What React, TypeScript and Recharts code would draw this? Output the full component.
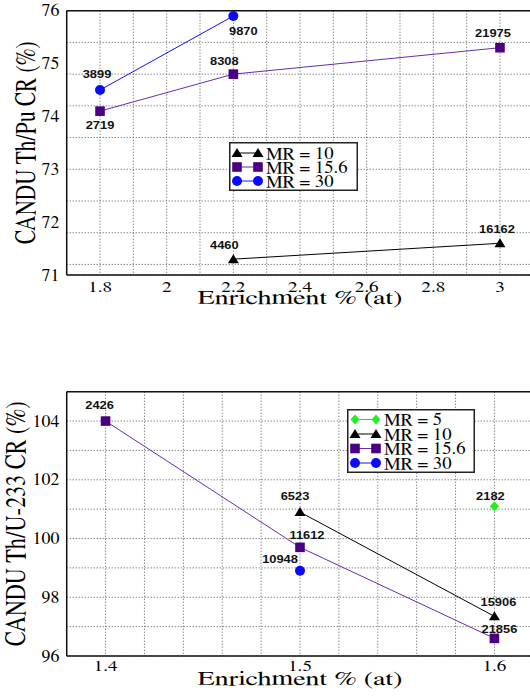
import React from "react";
import {
  LineChart,
  Line,
  XAxis,
  YAxis,
  CartesianGrid,
  ReferenceLine,
  LabelList,
  Legend,
} from "recharts";

// upper panel: CANDU Th/Pu conversion ratio
const puMr10Enrichment = [2.2, 3];
const puMr10Cr = [71.3, 71.6];
const puMr10Burnup = [4460, 16162];

const puMr156Enrichment = [1.8, 2.2, 3];
const puMr156Cr = [74.1, 74.8, 75.3];
const puMr156Burnup = [2719, 8308, 21975];

const puMr30Enrichment = [1.8, 2.2];
const puMr30Cr = [74.5, 75.9];
const puMr30Burnup = [3899, 9870];

const puXTicks = [1.8, 2, 2.2, 2.4, 2.6, 2.8, 3];
const puYTicks = [71, 72, 73, 74, 75, 76];
const puXGrid = [1.7, 1.8, 1.9, 2, 2.1, 2.2, 2.3, 2.4, 2.5, 2.6, 2.7, 2.8, 2.9, 3, 3.1];
const puYGrid = [
  71, 71.2, 71.4, 71.6, 71.8, 72, 72.2, 72.4, 72.6, 72.8, 73, 73.2, 73.4, 73.6, 73.8,
  74, 74.2, 74.4, 74.6, 74.8, 75, 75.2, 75.4, 75.6, 75.8, 76,
];

// lower panel: CANDU Th/U-233 conversion ratio
const uMr5Enrichment = [1.6];
const uMr5Cr = [101.1];
const uMr5Burnup = [2182];

const uMr10Enrichment = [1.5, 1.6];
const uMr10Cr = [100.9, 97.35];
const uMr10Burnup = [6523, 15906];

const uMr156Enrichment = [1.4, 1.5, 1.6];
const uMr156Cr = [104, 99.7, 96.6];
const uMr156Burnup = [2426, 11612, 21856];

const uMr30Enrichment = [1.5];
const uMr30Cr = [98.9];
const uMr30Burnup = [10948];

const uXTicks = [1.4, 1.5, 1.6];
const uYTicks = [96, 98, 100, 102, 104];
const uXGrid = [1.38, 1.4, 1.42, 1.44, 1.46, 1.48, 1.5, 1.52, 1.54, 1.56, 1.58, 1.6, 1.62];
const uYGrid = [
  96, 96.5, 97, 97.5, 98, 98.5, 99, 99.5, 100, 100.5, 101, 101.5, 102, 102.5, 103,
  103.5, 104, 104.5, 105,
];

// where each burnup note sits relative to its marker (dx, dy)
const puMr10Shift = [[-9, -14], [-3, -14]];
const puMr156Shift = [[0, 14], [-9, -13], [-7, -15]];
const puMr30Shift = [[-3, -16], [10, 15]];
const uMr5Shift = [[-4, -10]];
const uMr10Shift = [[-5, -16], [4, -14]];
const uMr156Shift = [[-6, -16], [7, -12], [5, -9]];
const uMr30Shift = [[-20, -12]];

const SERIF = "FreeSerif, 'Liberation Serif', serif";
const SANS = "'Liberation Sans', Arial, sans-serif";

type Shape = "triangle" | "square" | "circle" | "diamond";
type Pt = { x: number; y: number; note: number };
type Series = {
  name: string;
  shape: Shape;
  line: string;
  fill: string;
  data: Pt[];
  shift: number[][];
};

const points = (xs: number[], ys: number[], notes: number[]): Pt[] =>
  xs.map((x, i) => ({ x, y: ys[i], note: notes[i] }));

const BLACK = { line: "#000000", fill: "#000000" };
const PURPLE = { line: "#6a2ca6", fill: "#4b0082" };
const BLUE = { line: "#1010ff", fill: "#0a0aff" };
const GREEN = { line: "#22dd22", fill: "#22ee22" };

const puSeries: Series[] = [
  { name: "MR = 10", shape: "triangle", ...BLACK, data: points(puMr10Enrichment, puMr10Cr, puMr10Burnup), shift: puMr10Shift },
  { name: "MR = 15.6", shape: "square", ...PURPLE, data: points(puMr156Enrichment, puMr156Cr, puMr156Burnup), shift: puMr156Shift },
  { name: "MR = 30", shape: "circle", ...BLUE, data: points(puMr30Enrichment, puMr30Cr, puMr30Burnup), shift: puMr30Shift },
];

const uSeries: Series[] = [
  { name: "MR = 5", shape: "diamond", ...GREEN, data: points(uMr5Enrichment, uMr5Cr, uMr5Burnup), shift: uMr5Shift },
  { name: "MR = 10", shape: "triangle", ...BLACK, data: points(uMr10Enrichment, uMr10Cr, uMr10Burnup), shift: uMr10Shift },
  { name: "MR = 15.6", shape: "square", ...PURPLE, data: points(uMr156Enrichment, uMr156Cr, uMr156Burnup), shift: uMr156Shift },
  { name: "MR = 30", shape: "circle", ...BLUE, data: points(uMr30Enrichment, uMr30Cr, uMr30Burnup), shift: uMr30Shift },
];

function Marker({ shape, cx, cy, fill }: { shape: Shape; cx: number; cy: number; fill: string }) {
  if (cx == null || cy == null) return null;
  if (shape === "triangle")
    return <polygon points={`${cx},${cy - 5} ${cx - 5.5},${cy + 4} ${cx + 5.5},${cy + 4}`} fill={fill} />;
  if (shape === "square") return <rect x={cx - 4.8} y={cy - 4.8} width={9.6} height={9.6} fill={fill} />;
  if (shape === "diamond")
    return <polygon points={`${cx},${cy - 5} ${cx + 4.5},${cy} ${cx},${cy + 5} ${cx - 4.5},${cy}`} fill={fill} />;
  return <circle cx={cx} cy={cy} r={5} fill={fill} />;
}

// the source figure is a bit wider than tall, so text gets a horizontal stretch
function StretchText({ x, y, sx = 1, family, children, ...rest }: any) {
  return (
    <text transform={`translate(${x},${y}) scale(${sx},1)`} style={{ fontFamily: family }} {...rest}>
      {children}
    </text>
  );
}

function LegendBox({ series, width, height, first, step }: any) {
  return (
    <svg width={width} height={height} style={{ display: "block" }}>
      <rect x={0.75} y={0.75} width={width - 1.5} height={height - 1.5} fill="#fff" stroke="#222" strokeWidth={1.5} />
      {series.map((s: Series, i: number) => {
        const cy = first + i * step;
        return (
          <g key={s.name}>
            <line x1={8} x2={29} y1={cy} y2={cy} stroke={s.line} strokeWidth={1} />
            <Marker shape={s.shape} cx={8} cy={cy} fill={s.fill} />
            <Marker shape={s.shape} cx={29} cy={cy} fill={s.fill} />
            <StretchText x={37} y={cy + 5.5} sx={1.1} family={SERIF} fontSize={17} fill="#000">
              {s.name}
            </StretchText>
          </g>
        );
      })}
    </svg>
  );
}

interface PanelProps {
  series: Series[];
  xDomain: number[];
  yDomain: number[];
  xTicks: number[];
  yTicks: number[];
  xGrid: number[];
  yGrid: number[];
  yTitle: string;
  yTitleLen: number;
  yTitleX: number;
  xTickGap: number;
  legend: { left: number; top: number; width: number; height: number; first: number; step: number };
}

function Panel(p: PanelProps) {
  return (
    <LineChart width={540} height={320} margin={{ top: 10.7, right: 6.7, bottom: 15, left: 0 }}>
      <XAxis xAxisId="g" type="number" dataKey="x" domain={p.xDomain} ticks={p.xGrid} allowDataOverflow hide />
      <YAxis yAxisId="g" type="number" domain={p.yDomain} ticks={p.yGrid} allowDataOverflow hide />
      <CartesianGrid xAxisId="g" yAxisId="g" stroke="#555" strokeDasharray="1 2" />
      <XAxis
        type="number"
        dataKey="x"
        domain={p.xDomain}
        ticks={p.xTicks}
        interval={0}
        allowDataOverflow
        height={30}
        tickSize={0}
        tickMargin={p.xTickGap}
        tickLine={false}
        axisLine={{ stroke: "#111", strokeWidth: 1.5 }}
        tick={(t: any) => (
          <StretchText x={t.x} y={t.y + 10.5} sx={1.2} textAnchor="middle" family={SERIF} fontSize={16} fill="#000">
            {t.payload.value}
          </StretchText>
        )}
        label={(l: any) => {
          const vb = l.viewBox;
          return (
            <text
              x={vb.x + vb.width / 2}
              y={vb.y + 28.5}
              textAnchor="middle"
              style={{ fontFamily: SERIF }}
              fontSize={20}
              textLength={205}
              lengthAdjust="spacingAndGlyphs"
              fill="#000"
            >
              Enrichment % (at)
            </text>
          );
        }}
      />
      <YAxis
        type="number"
        domain={p.yDomain}
        ticks={p.yTicks}
        interval={0}
        allowDataOverflow
        width={66.7}
        tickSize={0}
        tickMargin={7.4}
        tickLine={false}
        axisLine={{ stroke: "#111", strokeWidth: 1.5 }}
        tick={(t: any) => (
          <StretchText x={t.x} y={t.y + 5.5} sx={1.08} textAnchor="end" family={SERIF} fontSize={16.5} fill="#000">
            {t.payload.value}
          </StretchText>
        )}
        label={(l: any) => {
          const vb = l.viewBox;
          return (
            <text
              transform={`translate(${p.yTitleX},${vb.y + vb.height / 2}) rotate(-90) scale(1,1.3)`}
              textAnchor="middle"
              style={{ fontFamily: SERIF }}
              fontSize={22}
              textLength={p.yTitleLen}
              lengthAdjust="spacingAndGlyphs"
              fill="#000"
            >
              {p.yTitle}
            </text>
          );
        }}
      />
      <ReferenceLine y={p.yDomain[1]} stroke="#111" strokeWidth={1.5} />
      <ReferenceLine x={p.xDomain[1]} stroke="#111" strokeWidth={1.5} />
      {p.series.map((s) => (
        <Line
          key={s.name}
          data={s.data}
          dataKey="y"
          name={s.name}
          type="linear"
          stroke={s.line}
          strokeWidth={1}
          activeDot={false}
          isAnimationActive={false}
          dot={(d: any) => <Marker key={`${s.name}-${d.index}`} shape={s.shape} cx={d.cx} cy={d.cy} fill={s.fill} />}
        >
          <LabelList
            dataKey="note"
            content={(c: any) => {
              const sh = s.shift[c.index] || [0, -12];
              const x = c.x ?? c.viewBox?.x;
              const y = c.y ?? c.viewBox?.y;
              return (
                <StretchText
                  x={x + sh[0]}
                  y={y + sh[1] + 4}
                  sx={1.12}
                  textAnchor="middle"
                  family={SANS}
                  fontWeight="bold"
                  fontSize={11.5}
                  fill="#111"
                >
                  {c.value}
                </StretchText>
              );
            }}
          />
        </Line>
      ))}
      <Legend
        layout="horizontal"
        verticalAlign="middle"
        align="center"
        wrapperStyle={{ left: p.legend.left, top: p.legend.top, width: p.legend.width, height: p.legend.height }}
        content={() => (
          <LegendBox
            series={p.series}
            width={p.legend.width}
            height={p.legend.height}
            first={p.legend.first}
            step={p.legend.step}
          />
        )}
      />
    </LineChart>
  );
}

export default function App() {
  return (
    <div
      style={{
        position: "absolute",
        left: 0,
        top: 0,
        width: 530,
        height: 698,
        overflow: "hidden",
        background: "#fff",
      }}
    >
      <div style={{ position: "absolute", left: 0, top: 0 }}>
        <Panel
          series={puSeries}
          xDomain={[1.7, 3.1]}
          yDomain={[71, 76]}
          xTicks={puXTicks}
          yTicks={puYTicks}
          xGrid={puXGrid}
          yGrid={puYGrid}
          yTitle="CANDU Th/Pu CR (%)"
          yTitleLen={203}
          yTitleX={35}
          xTickGap={6.7}
          legend={{ left: 229, top: 142, width: 129, height: 49, first: 11, step: 14 }}
        />
      </div>
      <div style={{ position: "absolute", left: 0, top: 380.6 }}>
        <Panel
          series={uSeries}
          xDomain={[1.38, 1.62]}
          yDomain={[96, 105]}
          xTicks={uXTicks}
          yTicks={uYTicks}
          xGrid={uXGrid}
          yGrid={uYGrid}
          yTitle="CANDU Th/U-233 CR (%)"
          yTitleLen={245}
          yTitleX={25}
          xTickGap={4.5}
          legend={{ left: 347, top: 28.4, width: 128, height: 64, first: 10.5, step: 14.5 }}
        />
      </div>
    </div>
  );
}
